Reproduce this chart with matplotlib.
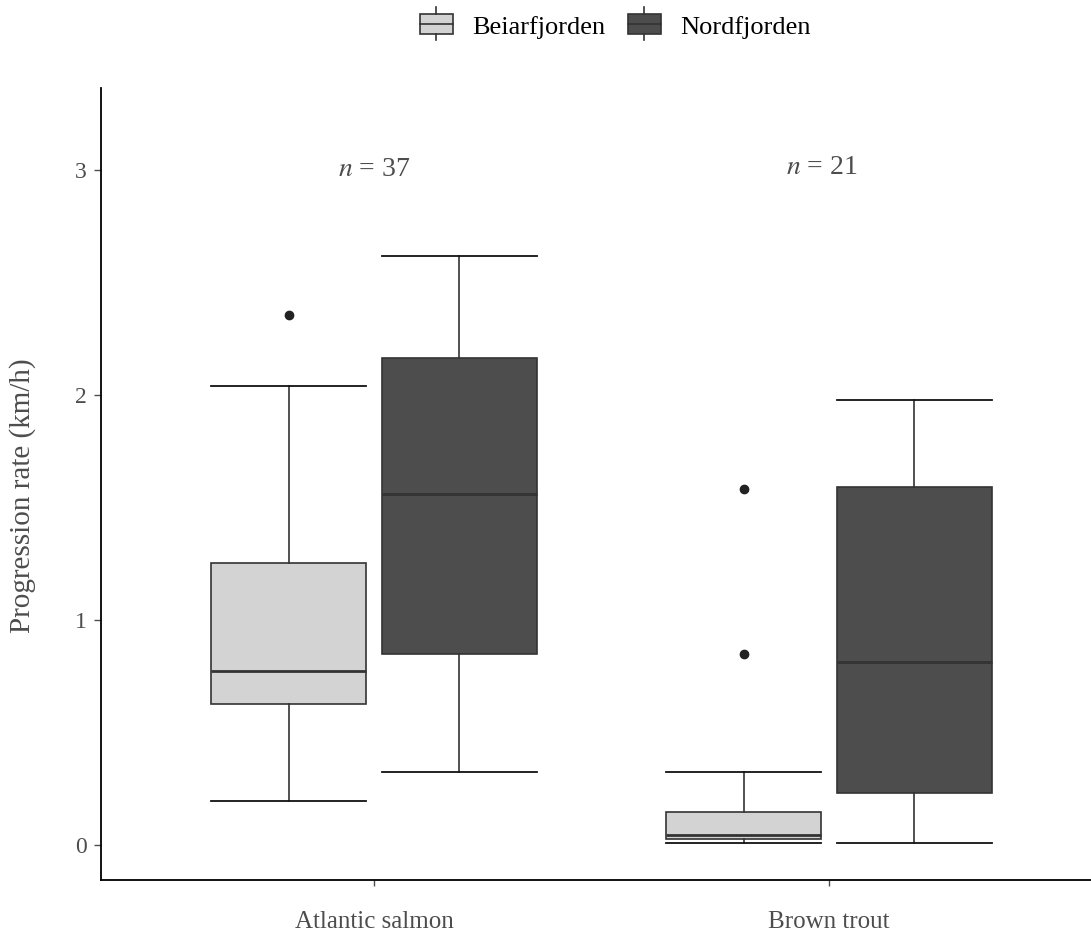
import numpy as np
import matplotlib
matplotlib.use("Agg")
import matplotlib.pyplot as plt
from matplotlib.legend_handler import HandlerBase
from matplotlib.patches import Rectangle, Patch
from matplotlib.lines import Line2D

plt.rcParams['font.family'] = ['Liberation Serif', 'DejaVu Serif']

# data
species = ['Atlantic salmon', 'Brown trout']
sites = ['Beiarfjorden', 'Nordfjorden']
counts = [37, 21]

beiar_whislo = [0.196, 0.010]
beiar_q1 = [0.627, 0.025]
beiar_med = [0.773, 0.044]
beiar_q3 = [1.253, 0.147]
beiar_whishi = [2.040, 0.324]
beiar_out = [[2.356], [1.582, 0.849]]

nord_whislo = [0.324, 0.009]
nord_q1 = [0.849, 0.230]
nord_med = [1.560, 0.813]
nord_q3 = [2.164, 1.591]
nord_whishi = [2.618, 1.978]
nord_out = [[], []]

colors = ['#D3D3D3', '#4D4D4D']
edge = '#333333'


def make_stats(lo, q1, med, q3, hi, out):
    return [dict(whislo=lo[i], q1=q1[i], med=med[i], q3=q3[i], whishi=hi[i],
                 fliers=np.array(out[i])) for i in range(len(lo))]


fig = plt.figure(figsize=(10.91, 9.35), dpi=100)
ax = fig.add_axes([101/1091, 55/935, 990/1091, (880-88)/935])

xpos = np.arange(1, len(species) + 1)
offset = 0.1875
width = 0.34
all_stats = [make_stats(beiar_whislo, beiar_q1, beiar_med, beiar_q3, beiar_whishi, beiar_out),
             make_stats(nord_whislo, nord_q1, nord_med, nord_q3, nord_whishi, nord_out)]

for k, stats in enumerate(all_stats):
    pos = xpos + (-offset if k == 0 else offset)
    ax.bxp(stats, positions=pos, widths=width, patch_artist=True, manage_ticks=False,
           boxprops=dict(facecolor=colors[k], edgecolor=edge, linewidth=1.2),
           medianprops=dict(color=edge, linewidth=2.0),
           whiskerprops=dict(color=edge, linewidth=1.2),
           capprops=dict(color='#111111', linewidth=1.3),
           capwidths=width,
           flierprops=dict(marker='o', markerfacecolor='#222222', markeredgecolor='#222222',
                           markersize=6))

for i, n in enumerate(counts):
    ax.text(xpos[i] - 0.015 * i, 3.0 + 0.012 * i, r'$\mathit{n}$ = %d' % n, ha='center', va='center',
            fontsize=20, color='#4D4D4D', math_fontfamily='stix')

ax.set_xlim(0.4, 0.4 + 990/455)
ax.set_ylim(-0.156, 3.364)
ax.set_xticks(xpos)
ax.set_xticklabels(species, fontsize=18, color='#4D4D4D')
ax.set_yticks([0, 1, 2, 3])
ax.tick_params(axis='y', labelsize=17, labelcolor='#4D4D4D', color='#4D4D4D', length=5, width=1, pad=5)
ax.tick_params(axis='x', color='#4D4D4D', length=4, width=1, pad=18)
ax.set_ylabel('Progression rate (km/h)', fontsize=21, color='#4D4D4D')
ax.yaxis.set_label_coords(-0.066, 0.485)
for s in ['top', 'right']:
    ax.spines[s].set_visible(False)
for s in ['left', 'bottom']:
    ax.spines[s].set_linewidth(1.3)
    ax.spines[s].set_color('black')


class BoxKey(HandlerBase):
    def create_artists(self, legend, orig, xd, yd, w, h, fontsize, trans):
        fc = orig.get_facecolor()
        rect = Rectangle((xd, yd), w, h, facecolor=fc, edgecolor=edge,
                         linewidth=1.2, transform=trans)
        cx = xd + w / 2
        mid = Line2D([xd, xd + w], [yd + h * 0.5] * 2, color=edge, lw=1.2, transform=trans)
        top = Line2D([cx, cx], [yd + h, yd + h * 1.35], color=edge, lw=1.2, transform=trans)
        bot = Line2D([cx, cx], [yd, yd - h * 0.35], color=edge, lw=1.2, transform=trans)
        return [rect, mid, top, bot]


handles = [Patch(facecolor=c) for c in colors]
fig.legend(handles, sites, handler_map={Patch: BoxKey()}, loc='center',
           bbox_to_anchor=(0.564, 0.971), ncol=2, frameon=False, fontsize=19,
           handlelength=1.25, handleheight=0.75, handletextpad=0.75, columnspacing=0.85)

fig.savefig('out.png', dpi=100)
